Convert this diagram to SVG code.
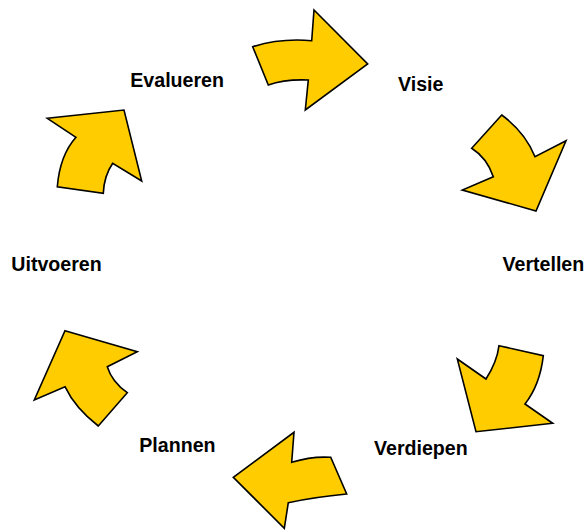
<svg xmlns="http://www.w3.org/2000/svg" width="585" height="530" viewBox="0 0 585 530">
  <style>
    .arrow { fill: #FFCC00; stroke: #000; stroke-width: 1.6; stroke-linejoin: miter; }
    .label { font-family: "Liberation Sans", Arial, sans-serif; font-weight: bold; font-size: 19.6px; fill: #000; }
  </style>
  <rect width="585" height="530" fill="#fff"/>
  <g id="connectors">
    <path id="arrow-visie" class="arrow" d="M252.7,46.7 Q280,38 311.7,40.7 L314,10 L367.7,64 L305.3,110 L308.3,80 Q285,79 268.3,85 Z"/>
    <path id="arrow-vertellen" class="arrow" d="M501.7,115 Q525,132 535,156.7 L566,140.7 L536,211 L462.3,190 L493.3,176.7 Q487,158 471.7,148.3 Z"/>
    <path id="arrow-verdiepen" class="arrow" d="M499,345.7 L543.3,355.7 Q540,385 525,404 L552.7,423.3 L476,431.7 L457.3,359 L486,379 Q497,362 499,345.7 Z"/>
    <path id="arrow-plannen" class="arrow" d="M294,432.3 L291.7,462.3 Q312,456 330.7,457.3 L346.7,494 Q315,497 288.3,502.7 L284.3,528.3 L233.3,477.3 Z"/>
    <path id="arrow-uitvoeren" class="arrow" d="M65,330.7 L137.3,351.7 L107.3,366.7 Q112,382 127.3,392.7 L98.3,426 Q75,408 65,386.7 L34.3,400 Z"/>
    <path id="arrow-evalueren" class="arrow" d="M47.3,118.3 L124,110 L141.7,181 L112.7,163.3 Q104,176 103.3,193.3 L57.3,186.7 Q60,155 76,137.3 Z"/>
  </g>
  <g id="node-evalueren"><text class="label" x="130.3" y="87">Evalueren</text></g>
  <g id="node-visie"><text class="label" x="398" y="90.5">Visie</text></g>
  <g id="node-vertellen"><text class="label" x="502.5" y="270.5">Vertellen</text></g>
  <g id="node-uitvoeren"><text class="label" x="11.3" y="270.5">Uitvoeren</text></g>
  <g id="node-plannen"><text class="label" x="139.3" y="452">Plannen</text></g>
  <g id="node-verdiepen"><text class="label" x="374" y="455">Verdiepen</text></g>
</svg>
